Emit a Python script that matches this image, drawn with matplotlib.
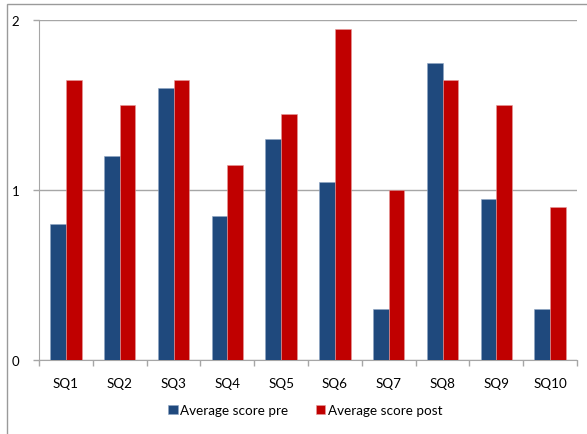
import matplotlib
matplotlib.use("Agg")
import matplotlib.pyplot as plt
import numpy as np
from matplotlib.patches import Rectangle

categories = ["SQ1", "SQ2", "SQ3", "SQ4", "SQ5", "SQ6", "SQ7", "SQ8", "SQ9", "SQ10"]
pre = [0.80, 1.20, 1.60, 0.85, 1.30, 1.05, 0.30, 1.75, 0.95, 0.30]
post = [1.65, 1.50, 1.65, 1.15, 1.45, 1.95, 1.00, 1.65, 1.50, 0.90]
series_names = ["Average score pre", "Average score post"]
yticks = [0, 1, 2]

plt.rcParams['font.family'] = ['Lato', 'DejaVu Sans']

W, H = 587, 435
fig = plt.figure(figsize=(W / 100, H / 100), dpi=100)
ax = fig.add_axes([39 / W, 1 - 361 / H, (577 - 39) / W, (361 - 21) / H])

x = np.arange(len(categories))
bw = 0.29
ax.bar(x - bw / 2, pre, bw, color="#1F497D", label=series_names[0], zorder=3,
       edgecolor="#8fa6c4", linewidth=0.4)
ax.bar(x + bw / 2, post, bw, color="#C00000", label=series_names[1], zorder=3,
       edgecolor="#e59a9a", linewidth=0.4)

ax.set_xlim(-0.5, len(categories) - 0.5)
ax.set_ylim(0, 2)
ax.set_yticks(yticks)
ax.set_yticklabels([str(t) for t in yticks], fontsize=9.5)
ax.yaxis.grid(True, color="#a6a6a6", linewidth=1.0, zorder=0)
ax.set_axisbelow(True)

ax.set_xticks(x)
ax.set_xticklabels(categories, fontsize=9.7)
ax.tick_params(axis="x", length=0, pad=12)
ax.set_xticks(np.arange(-0.5, len(categories), 1), minor=True)
ax.tick_params(axis="x", which="minor", length=4, color="#a6a6a6", width=1)
ax.tick_params(axis="y", length=4, color="#a6a6a6", width=1, pad=10)

for s in ["top", "right"]:
    ax.spines[s].set_visible(False)
ax.spines["left"].set_color("#a6a6a6")
ax.spines["bottom"].set_color("#a6a6a6")

leg = fig.legend(loc="center", bbox_to_anchor=(0.52, 1 - 411 / H), ncol=2, frameon=False,
                 fontsize=9.7, handlelength=0.7, handleheight=0.7, handletextpad=0.2,
                 columnspacing=2.0)

fig.patches.append(Rectangle((7 / W, -0.1), 1.2, 1 - 5 / H + 0.1, transform=fig.transFigure,
                             fill=False, edgecolor="#9a9a9a", linewidth=1.0))

fig.savefig("out.png", dpi=100)
